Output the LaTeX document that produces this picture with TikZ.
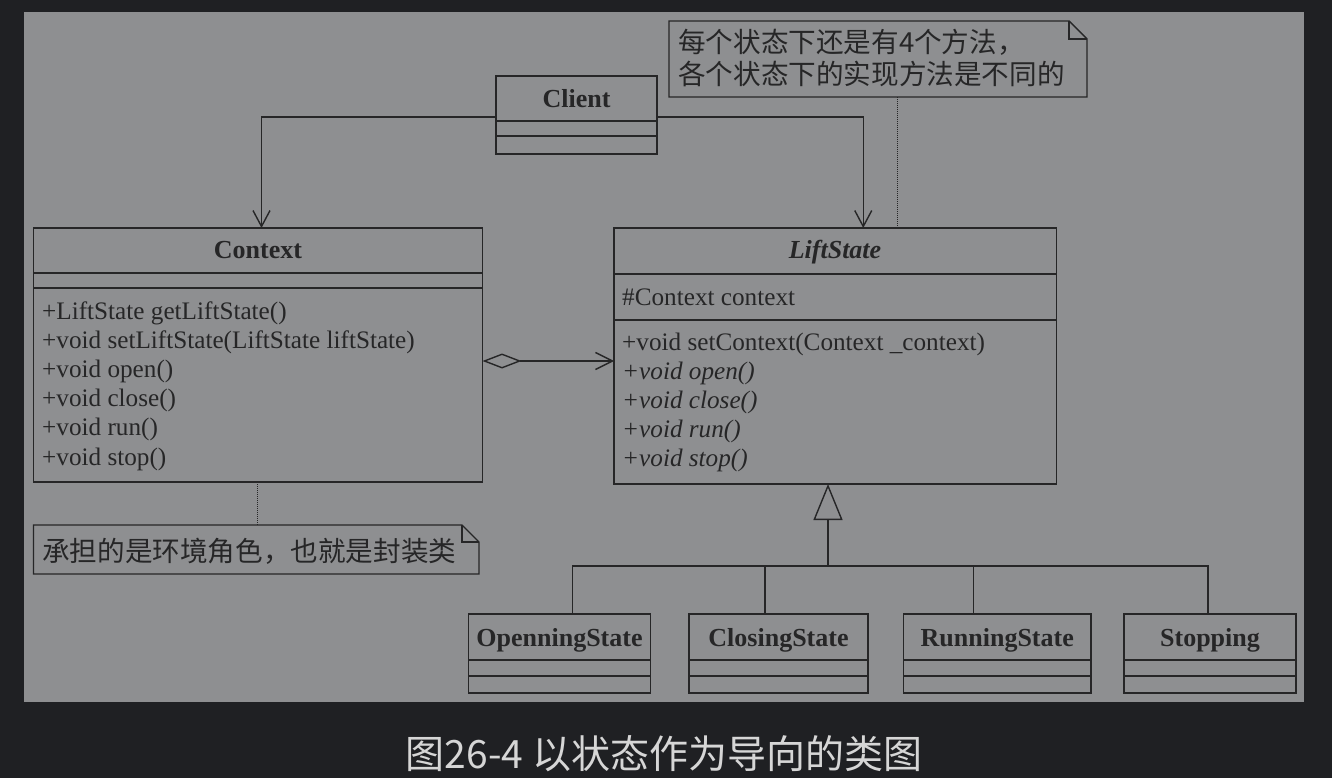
\documentclass[tikz,border=0pt]{standalone}
\usepackage{fontspec}
\setmainfont{Liberation Serif}
\newfontfamily\cjk{Noto Sans CJK SC}
\usetikzlibrary{arrows.meta,calc}
\definecolor{outerbg}{HTML}{1F2023}
\definecolor{panel}{HTML}{8E8F91}
\definecolor{ink}{HTML}{262627}
\definecolor{captxt}{HTML}{D6D6D6}
\begin{document}
\begin{tikzpicture}[x=1pt,y=-1pt,
  cls/.style={draw=ink, line width=1.6pt, anchor=north west, inner sep=0pt, outer sep=0pt},
  frame/.style={anchor=north west, inner sep=0pt, outer sep=0pt},
  title/.style={font=\fontsize{26}{30}\selectfont\bfseries, text=ink, inner sep=0pt, anchor=base},
  member/.style={font=\fontsize{25.2}{29}\selectfont, text=ink, anchor=base west, inner sep=0pt},
  amember/.style={member, font=\fontsize{25.2}{29}\selectfont\itshape},
  divider/.style={draw=ink, line width=1.6pt},
  conn/.style={draw=ink, line width=1.4pt},
  notetxt/.style={font=\cjk\fontsize{27.6}{30}\selectfont, text=ink, anchor=west, inner sep=0pt},
  notedash/.style={draw=ink, line width=1pt, densely dotted},
  barb/.style={-{Straight Barb[length=16pt,width=17pt]}}
]
\fill[outerbg] (0,0) rectangle (1332,778);
\useasboundingbox (0,0) rectangle (1332,778);
\fill[panel] (24,12) rectangle (1304,702);

% Client
\node[cls, minimum width=161pt, minimum height=78pt] (client) at (496,76) {};
\draw[divider] (496,121) -- (657,121) (496,136) -- (657,136);
\node[title] (clientT) at (576.5,107.5) {Client};

% Context
\node[cls, minimum width=449pt, minimum height=254pt] (context) at (33.5,228) {};
\draw[divider] (33.5,273) -- (482.5,273) (33.5,288) -- (482.5,288);
\node[title] (contextT) at (258,258.5) {Context};
\node[member] (c1) at (42,319) {+LiftState getLiftState()};
\node[member] (c2) at (42,348.2) {+void setLiftState(LiftState liftState)};
\node[member] (c3) at (42,377.4) {+void open()};
\node[member] (c4) at (42,406.6) {+void close()};
\node[member] (c5) at (42,435.8) {+void run()};
\node[member] (c6) at (42,465) {+void stop()};

% LiftState
\node[cls, minimum width=442.5pt, minimum height=256pt] (lift) at (614,228) {};
\draw[divider] (614,274) -- (1056.5,274) (614,320) -- (1056.5,320);
\node[title, font=\fontsize{26}{30}\selectfont\bfseries\itshape] (liftT) at (835,258.5) {LiftState};
\node[member] (l0) at (622,305) {\#Context context};
\node[member] (l1) at (622,350) {+void setContext(Context \_context)};
\node[amember] (l2) at (622,379.2) {+void open()};
\node[amember] (l3) at (622,408.4) {+void close()};
\node[amember] (l4) at (622,437.6) {+void run()};
\node[amember] (l5) at (622,466.8) {+void stop()};

% Subclasses
\node[cls, minimum width=182pt, minimum height=79pt] (os) at (468.5,614) {};
\draw[divider] (468.5,660) -- (650.5,660) (468.5,676) -- (650.5,676);
\node[title] (osT) at (559.5,646.5) {OpenningState};

\node[cls, minimum width=179pt, minimum height=79pt] (cs) at (689,614) {};
\draw[divider] (689,660) -- (868,660) (689,676) -- (868,676);
\node[title] (csT) at (778.5,646.5) {ClosingState};

\node[cls, minimum width=187.5pt, minimum height=79pt] (rs) at (903.5,614) {};
\draw[divider] (903.5,660) -- (1091,660) (903.5,676) -- (1091,676);
\node[title] (rsT) at (997.25,646.5) {RunningState};

\node[cls, minimum width=172pt, minimum height=79pt] (ss) at (1124,614) {};
\draw[divider] (1124,660) -- (1296,660) (1124,676) -- (1296,676);
\node[title] (ssT) at (1210,646.5) {Stopping};

% Note 1
\node[frame, minimum width=418pt, minimum height=76pt] (note1) at (669,21) {};
\draw[ink, line width=1.4pt] (note1.north west) -- ($(note1.north east)+(-18,0)$) -- ($(note1.north east)+(0,18)$) -- (note1.south east) -- (note1.south west) -- cycle;
\draw[ink, line width=1.4pt] ($(note1.north east)+(-18,0)$) -- ($(note1.north east)+(-18,18)$) -- ($(note1.north east)+(0,18)$);
\node[notetxt] (n1a) at (678,42) {每个状态下还是有4个方法，};
\node[notetxt] (n1b) at (678,74) {各个状态下的实现方法是不同的};

% Note 2
\node[frame, minimum width=445.5pt, minimum height=49pt] (note2) at (33.5,525) {};
\draw[ink, line width=1.4pt] (note2.north west) -- ($(note2.north east)+(-17,0)$) -- ($(note2.north east)+(0,17)$) -- (note2.south east) -- (note2.south west) -- cycle;
\draw[ink, line width=1.4pt] ($(note2.north east)+(-17,0)$) -- ($(note2.north east)+(-17,17)$) -- ($(note2.north east)+(0,17)$);
\node[notetxt] (n2) at (42,551) {承担的是环境角色，也就是封装类};

% Connectors
\draw[conn, barb] ([yshift=-2pt]client.west) -| ([xshift=3.5pt]context.north);
\draw[conn, barb] ([yshift=-2pt]client.east) -| ([xshift=28pt]lift.north);
\draw[notedash] ([xshift=19pt]note1.south) -- ([xshift=19pt]note1.south |- lift.north);
\draw[notedash] ([xshift=-1pt]context.south) -- ([xshift=-1pt]context.south |- note2.north);
\draw[conn, {Diamond[open,length=39pt,width=15pt]}-{Straight Barb[length=17pt,width=17pt]}]
  ([yshift=-6pt]context.east) -- ([yshift=-6pt]context.east -| lift.west);

\coordinate (bus) at (828,566);
\draw[conn, -{Triangle[open,length=36pt,width=29pt]}] (bus) -- (bus |- lift.south);
\draw[conn] ([xshift=13pt]os.north) |- (bus);
\draw[conn] ([xshift=-13.5pt]cs.north) |- (bus);
\draw[conn] ([xshift=-24pt]rs.north) |- (bus);
\draw[conn] ([xshift=-2pt]ss.north) |- (bus);

% Caption
\node[font=\cjk\fontsize{39}{41}\selectfont, text=captxt, inner sep=0pt] (cap) at (664,754) {图26-4 以状态作为导向的类图};
\end{tikzpicture}
\end{document}
